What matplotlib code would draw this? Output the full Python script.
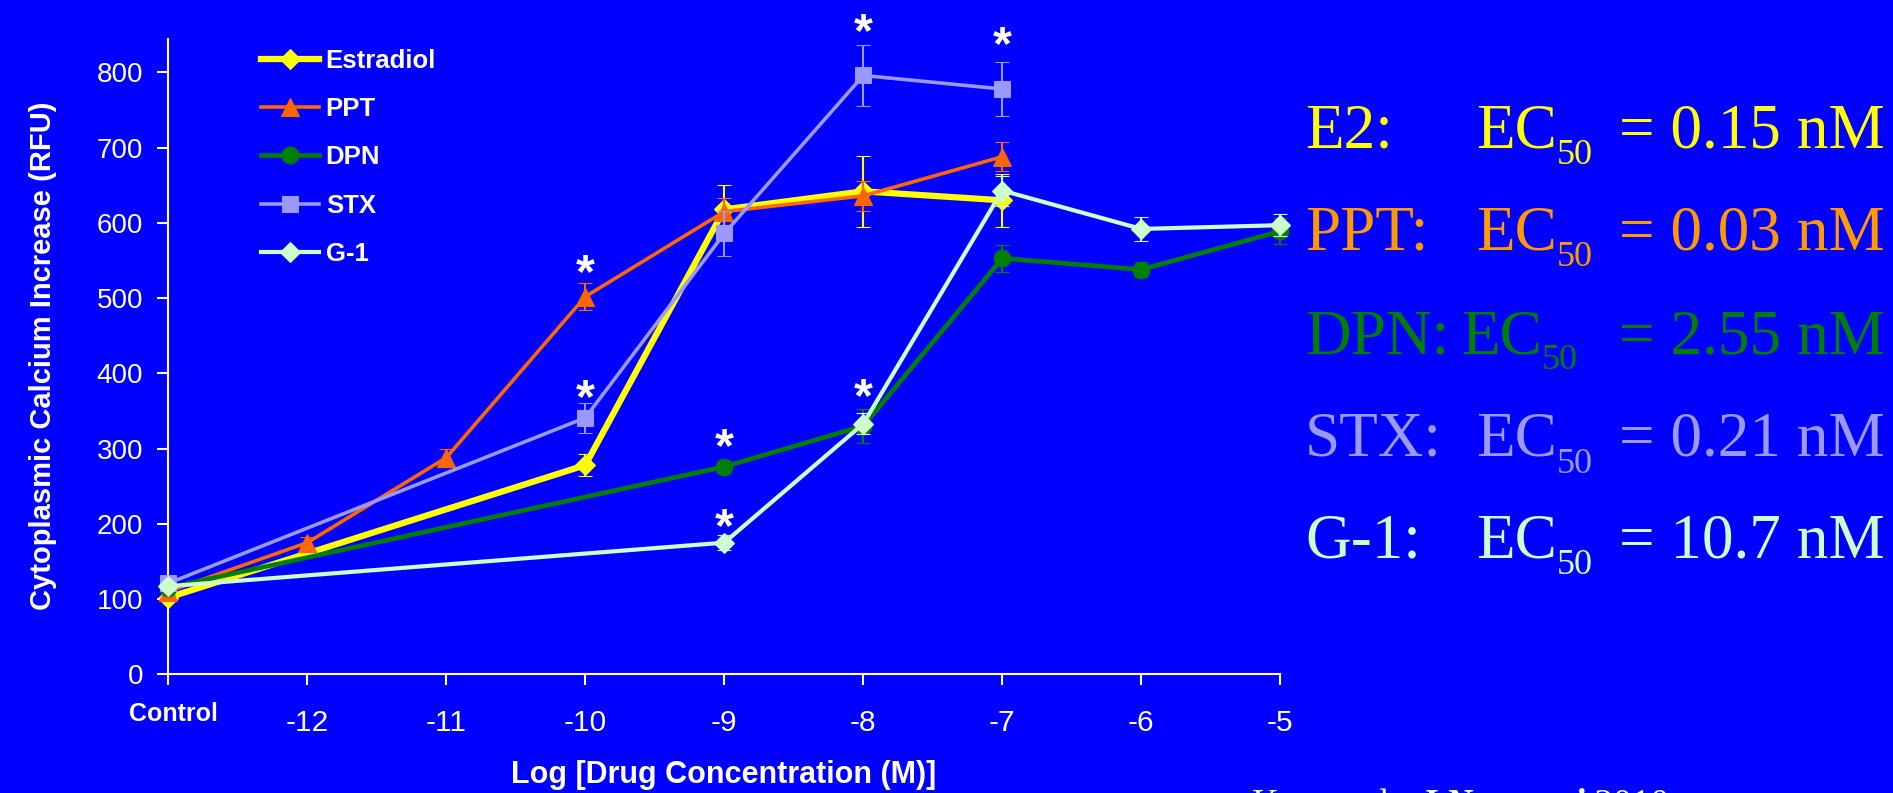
import matplotlib
matplotlib.use('Agg')
import matplotlib.pyplot as plt
import matplotlib.transforms as mtransforms
from matplotlib.font_manager import FontProperties

# ---------------- data ----------------
categories = ['Control', '-12', '-11', '-10', '-9', '-8', '-7', '-6', '-5']

estradiol_x = ['Control', '-10', '-9', '-8', '-7']
estradiol_y = [102, 278, 618, 642, 630]
estradiol_err = [5, 15, 33, 47, 35]

ppt_x = ['Control', '-12', '-11', '-10', '-9', '-8', '-7']
ppt_y = [110, 175, 288, 502, 615, 636, 688]
ppt_err = [5, 8, 12, 18, 18, 20, 19]

dpn_x = ['Control', '-9', '-8', '-7', '-6', '-5']
dpn_y = [115, 276, 330, 553, 538, 589]
dpn_err = [5, 8, 23, 18, 10, 17]

stx_x = ['Control', '-10', '-9', '-8', '-7']
stx_y = [121, 341, 586, 796, 778]
stx_err = [5, 20, 30, 41, 36]

g1_x = ['Control', '-9', '-8', '-7', '-6', '-5']
g1_y = [117, 175, 333, 643, 592, 597]
g1_err = [5, 10, 14, 20, 16, 15]

star_x = ['-10', '-10', '-9', '-9', '-8', '-8', '-7']
star_y = [552, 386, 321, 215, 388, 873, 855]

ec_labels = ['E2:', 'PPT:', 'DPN:', 'STX:', 'G-1:']
ec_values = ['0.15', '0.03', '2.55', '0.21', '10.7']

citation_parts = ['Kuo et al., ', 'J Neurosci', ' 2010']

# ---------------- figure ----------------
W_PX, H_PX, DPI = 1893, 793, 100
BG = '#0000FF'
fig = plt.figure(figsize=(W_PX / DPI, H_PX / DPI), dpi=DPI)
fig.patch.set_facecolor(BG)


def fx(px):
    return px / W_PX


def fy(py):
    return 1 - py / H_PX


ax_l, ax_r, ax_t, ax_b = 168.3, 1280.3, 38.6, 674.3
ax = fig.add_axes([fx(ax_l), fy(ax_b), (ax_r - ax_l) / W_PX, (ax_b - ax_t) / H_PX])
ax.set_facecolor(BG)

pos = {c: i for i, c in enumerate(categories)}

series = [
    ('Estradiol', estradiol_x, estradiol_y, estradiol_err, '#FFFF00', 'D', 4.5, 10.5),
    ('PPT', ppt_x, ppt_y, ppt_err, '#FF6600', '^', 2.6, 13.5),
    ('DPN', dpn_x, dpn_y, dpn_err, '#008000', 'o', 3.3, 12),
    ('STX', stx_x, stx_y, stx_err, '#9999FF', 's', 2.6, 12),
    ('G-1', g1_x, g1_y, g1_err, '#CCFFCC', 'D', 3.0, 10),
]

handles = []
for i, (name, xs, ys, es, color, marker, lw, ms) in enumerate(series):
    xp = [pos[c] for c in xs]
    eb = ax.errorbar(xp, ys, yerr=es, color=color, ecolor=color, marker=marker,
                     markersize=ms, lw=lw, elinewidth=1.5, capsize=4.8, capthick=1.5,
                     markeredgecolor=color, markeredgewidth=0.8, zorder=3 + i)
    eb.lines[0].set_clip_on(False)
    for a in list(eb.lines[1]) + list(eb.lines[2]):
        a.set_clip_on(False)
    handles.append(eb.lines[0])

# asterisks
star_fs = 35
for sx, sy in zip(star_x, star_y):
    ax.annotate('*', xy=(pos[sx], sy), xytext=(0, -0.58 * star_fs), textcoords='offset points',
                ha='center', va='baseline', fontsize=star_fs, fontweight='bold',
                color='white', family='Liberation Sans', annotation_clip=False)

ax.set_xlim(0, 8)
ax.set_ylim(0, 845)
ax.set_xticks(range(len(categories)))
ax.set_xticklabels([''] + categories[1:])
ax.set_yticks(range(0, 801, 100))
for s in ['top', 'right']:
    ax.spines[s].set_visible(False)
for s in ['left', 'bottom']:
    ax.spines[s].set_color('white')
    ax.spines[s].set_linewidth(1.5)
ax.tick_params(axis='x', colors='white', length=8, width=1.5, pad=17, labelsize=21.5, direction='out')
ax.tick_params(axis='y', colors='white', length=8, width=1.5, pad=10, labelsize=20, direction='out')
for lab in ax.get_xticklabels() + ax.get_yticklabels():
    lab.set_family('Liberation Sans')

# Control label
ctrl_tr = mtransforms.blended_transform_factory(ax.transData, fig.transFigure) + \
    mtransforms.ScaledTranslation(5 / DPI, 0, fig.dpi_scale_trans)
ax.text(pos['Control'], fy(721), categories[0], transform=ctrl_tr, ha='center', va='baseline',
        fontsize=18, fontweight='bold', color='white', family='Liberation Sans')

# axis labels
fig.text(fx(724), fy(783), 'Log [Drug Concentration (M)]', ha='center', va='baseline',
         fontsize=22, fontweight='bold', color='white', family='Liberation Sans')
fig.text(fx(51), fy(356), 'Cytoplasmic Calcium Increase (RFU)', rotation=90,
         rotation_mode='anchor', ha='center', va='baseline',
         fontsize=21, fontweight='bold', color='white', family='Liberation Sans')

# legend
leg = ax.legend(handles, [s[0] for s in series], loc='upper left',
                bbox_to_anchor=(fx(260.7), fy(48.5)), bbox_transform=fig.transFigure,
                frameon=False, borderpad=0, borderaxespad=0, handlelength=2.26,
                handletextpad=0.27, labelspacing=0.95, numpoints=1,
                prop=FontProperties(family='Liberation Sans', weight='bold', size=18.5))
for t in leg.get_texts():
    t.set_color('white')

# EC50 text block
renderer = fig.canvas.get_renderer()
ec_colors = ['#FFFF00', '#FF9900', '#008000', '#9999FF', '#CCFFCC']
baselines = [148, 250, 353, 456, 558]
ec_x = [1476, 1476, 1461, 1476, 1476]
serif = 'Liberation Serif'
MAIN_FS, SUB_FS = 45.5, 26
for lab, val, col, base, ex in zip(ec_labels, ec_values, ec_colors, baselines, ec_x):
    fig.text(fx(1305), fy(base), lab, fontsize=MAIN_FS, family=serif, color=col,
             va='baseline', ha='left')
    t1 = fig.text(fx(ex), fy(base), 'EC', fontsize=MAIN_FS, family=serif, color=col,
                  va='baseline', ha='left')
    bb1 = t1.get_window_extent(renderer)
    fig.text(bb1.x1 / W_PX, fy(base + 16.5), '50', fontsize=SUB_FS, family=serif, color=col,
             va='baseline', ha='left')
    fig.text(fx(1885), fy(base), '= ' + val + ' nM', fontsize=MAIN_FS, family=serif, color=col,
             va='baseline', ha='right')

# citation (cut off at the bottom edge, as in the original slide)
cx = fx(1252)
styles = [dict(style='normal', weight='normal'), dict(style='italic', weight='bold'),
          dict(style='normal', weight='normal')]
for part, st in zip(citation_parts, styles):
    t = fig.text(cx, fy(815), part, fontsize=27, family=serif, color='white',
                 va='baseline', ha='left', **st)
    cx = t.get_window_extent(renderer).x1 / W_PX

fig.savefig('out.png', dpi=DPI, facecolor=BG)
